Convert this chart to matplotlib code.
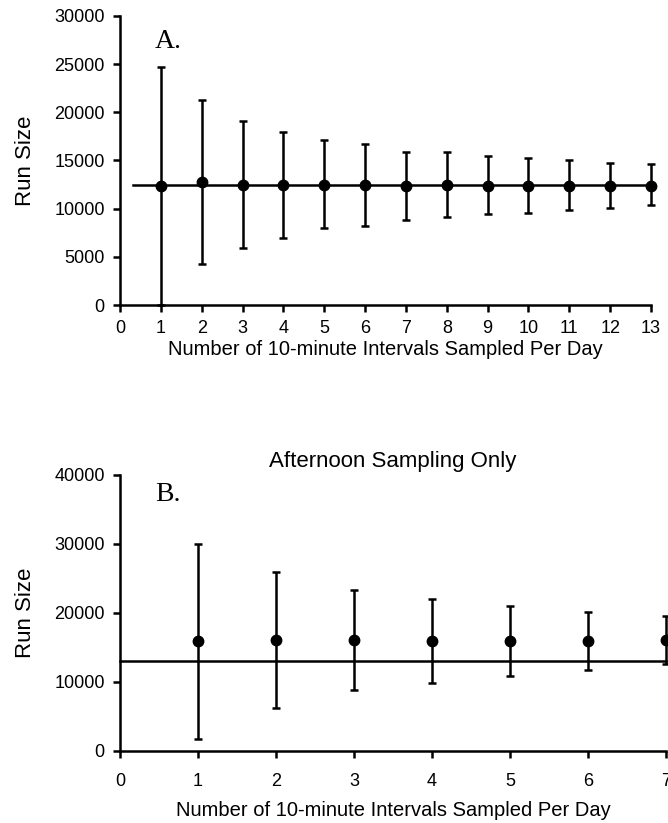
import matplotlib
matplotlib.use("Agg")
import matplotlib.pyplot as plt

plt.rcParams['font.family'] = ['Liberation Sans', 'DejaVu Sans']

# panel A - all day sampling
intervals_a = [1, 2, 3, 4, 5, 6, 7, 8, 9, 10, 11, 12, 13]
mean_a = [12400, 12800, 12500, 12500, 12500, 12500, 12400, 12500, 12400, 12400, 12400, 12400, 12400]
upper_a = [24700, 21300, 19050, 18000, 17100, 16700, 15900, 15850, 15450, 15250, 15000, 14700, 14600]
lower_a = [0, 4300, 5950, 6950, 7950, 8250, 8800, 9150, 9450, 9500, 9850, 10100, 10350]
true_run_a = 12500

# panel B - afternoon only
intervals_b = [1, 2, 3, 4, 5, 6, 7]
mean_b = [15900, 16100, 16100, 16000, 16000, 16000, 16100]
upper_b = [30000, 25900, 23300, 22000, 21000, 20200, 19600]
lower_b = [1800, 6200, 8850, 9850, 10900, 11700, 12550]
true_run_b = 13000

xlab = 'Number of 10-minute Intervals Sampled Per Day'

fig = plt.figure(figsize=(6.68, 8.23), dpi=100)
ax1 = fig.add_axes([0.1796, 0.6294, 0.795, 0.3512])
ax2 = fig.add_axes([0.1796, 0.0875, 0.8174, 0.3354])


def draw_panel(ax, x, m, lo, hi, ref, xref, xmax, ymax, ystep, letter, lx, ly,
               xpad=6, xlabpad=2):
    yerr = [[a - b for a, b in zip(m, lo)], [b - a for a, b in zip(m, hi)]]
    ax.plot(xref, [ref, ref], color='black', lw=1.8, clip_on=False, zorder=2)
    eb = ax.errorbar(x, m, yerr=yerr, fmt='o', color='black', ms=7.5,
                     elinewidth=1.8, capsize=3, capthick=1.8, zorder=3)
    for art in eb.lines[0:1] + tuple(eb.lines[1]) + tuple(eb.lines[2]):
        art.set_clip_on(False)
    ax.set_xlim(0, xmax)
    ax.set_ylim(0, ymax)
    ax.set_xticks(range(0, xmax + 1))
    ax.set_yticks(range(0, ymax + 1, ystep))
    for s in ['top', 'right']:
        ax.spines[s].set_visible(False)
    for s in ['left', 'bottom']:
        ax.spines[s].set_linewidth(1.8)
    ax.tick_params(direction='out', length=5, width=1.8, labelsize=13, pad=6)
    ax.tick_params(axis='x', pad=xpad)
    ax.set_xlabel(xlab, fontsize=14.5, labelpad=xlabpad)
    ax.set_ylabel('Run Size', fontsize=16, labelpad=13)
    ax.text(lx, ly, letter, family='Liberation Serif', fontsize=20)


draw_panel(ax1, intervals_a, mean_a, lower_a, upper_a, true_run_a, [0.33, 13],
           13, 30000, 5000, 'A.', 0.86, 26700)
draw_panel(ax2, intervals_b, mean_b, lower_b, upper_b, true_run_b, [0, 7],
           7, 40000, 10000, 'B.', 0.45, 36200, xpad=10.5, xlabpad=8)
ax2.set_title('Afternoon Sampling Only', fontsize=16, pad=6)

fig.savefig('out.png', dpi=100)
